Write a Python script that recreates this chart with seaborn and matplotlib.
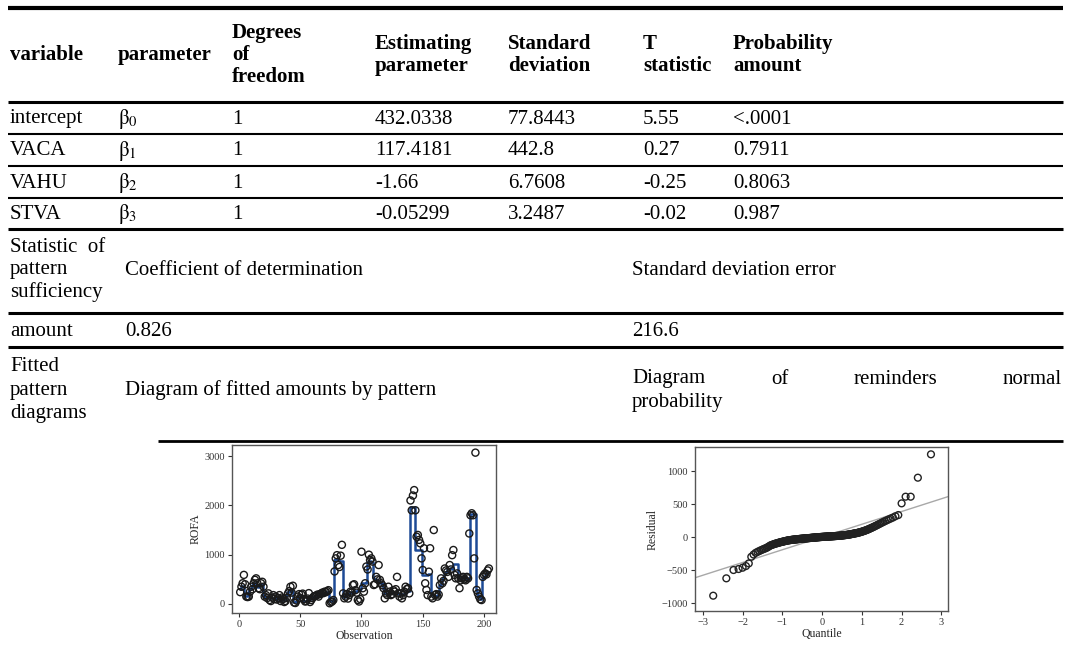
import numpy as np
import pandas as pd
import matplotlib
matplotlib.use("Agg")
import matplotlib.pyplot as plt
import seaborn as sns
from matplotlib.lines import Line2D
from statistics import NormalDist

sns.set_theme(style="white")
plt.rcParams['font.family'] = ['Liberation Serif', 'DejaVu Serif']
plt.rcParams['mathtext.fontset'] = 'stix'

# ---------------- table data ----------------
header = ["variable", "parameter", "Degrees\nof\nfreedom", "Estimating\nparameter",
          "Standard\ndeviation", "T\nstatistic", "Probability\namount"]
variables = ["intercept", "VACA", "VAHU", "STVA"]
params = ["0", "1", "2", "3"]
dof = ["1", "1", "1", "1"]
estimates = ["432.0338", "117.4181", "-1.66", "-0.05299"]
std_devs = ["77.8443", "442.8", "6.7608", "3.2487"]
t_stats = ["5.55", "0.27", "-0.25", "-0.02"]
p_values = ["<.0001", "0.7911", "0.8063", "0.987"]
stat_label = "Statistic  of\npattern\nsufficiency"
stat_cols = ["Coefficient of determination", "Standard deviation error"]
amount_label = "amount"
amount_vals = ["0.826", "216.6"]
diag_label = "Fitted\npattern\ndiagrams"
diag_left = "Diagram of fitted amounts by pattern"
diag_right_words = ["Diagram", "of", "reminders", "normal"]
diag_right_tail = "probability"

# ---------------- chart data ----------------
rofa = [240, 350, 420, 590, 400, 150, 140, 150, 250, 350,
        300, 420, 490, 520, 420, 320, 300, 420, 450, 350,
        150, 180, 120, 215, 80, 60, 130, 180, 100, 150,
        90, 120, 180, 60, 130, 100, 40, 60, 120, 215,
        260, 350, 230, 370, 30, 20, 70, 150, 200, 120,
        190, 210, 100, 50, 60, 110, 220, 40, 80, 120,
        150, 160, 170, 190, 150, 200, 210, 230, 220, 250,
        240, 260, 280, 15, 40, 50, 80, 660, 925, 990,
        790, 750, 980, 1200, 215, 115, 150, 200, 110, 180,
        250, 230, 385, 400, 280, 230, 80, 50, 100, 1060,
        320, 250, 420, 760, 700, 1000, 890, 925, 860, 385,
        400, 550, 500, 790, 490, 420, 380, 320, 115, 215,
        180, 350, 250, 180, 200, 280, 250, 300, 550, 215,
        150, 215, 115, 180, 250, 350, 300, 320, 215, 2100,
        1900, 2200, 2310, 1900, 1365, 1400, 1300, 1230, 925, 690,
        1130, 420, 285, 180, 655, 1130, 150, 115, 1500, 180,
        200, 150, 190, 385, 520, 420, 470, 720, 680, 650,
        550, 790, 700, 990, 1095, 590, 520, 620, 520, 320,
        480, 520, 550, 500, 480, 550, 520, 1430, 1800, 1840,
        1800, 925, 3070, 285, 215, 150, 95, 80, 550, 590,
        620, 600, 680, 720]
fitted = [300, 370, 370, 370, 160, 160, 160, 250, 300, 330,
          390, 420, 420, 380, 350, 350, 380, 400, 400, 160,
          160, 150, 150, 140, 130, 130, 130, 120, 120, 110,
          110, 110, 100, 100, 100, 90, 90, 90, 180, 240,
          260, 270, 280, 280, 50, 50, 60, 150, 160, 160,
          170, 160, 60, 60, 70, 110, 120, 110, 120, 140,
          150, 160, 170, 170, 180, 190, 200, 210, 220, 220,
          230, 240, 240, 60, 60, 60, 70, 900, 920, 920,
          900, 880, 880, 870, 150, 150, 180, 200, 200, 220,
          230, 240, 250, 250, 260, 260, 270, 280, 300, 420,
          420, 430, 430, 450, 850, 860, 870, 860, 850, 520,
          500, 480, 470, 460, 450, 430, 400, 300, 220, 220,
          210, 210, 220, 220, 230, 230, 220, 220, 230, 220,
          210, 200, 200, 200, 210, 230, 250, 260, 270, 1975,
          1975, 1975, 1975, 1095, 1095, 1095, 1095, 1095, 1095, 580,
          580, 580, 580, 590, 600, 600, 180, 180, 180, 170,
          170, 180, 190, 380, 450, 500, 540, 600, 650, 700,
          700, 710, 720, 700, 810, 810, 810, 810, 540, 540,
          530, 520, 520, 520, 510, 510, 510, 520, 1830, 1830,
          1830, 1830, 1830, 280, 200, 150, 110, 110, 500, 550,
          580, 600, 620, 640]
residuals_sorted = [-889, -626, -500, -485, -465, -440, -400, -300, -265, -240,
                    -225, -212, -200, -190, -180, -172, -163, -152, -140, -128,
                    -122, -116, -110, -105, -100, -96, -92, -88, -84, -80,
                    -77, -74, -71, -68, -65, -62, -60, -57, -55, -52,
                    -50, -49, -47, -46, -44, -43, -41, -40, -39, -38,
                    -37, -36, -35, -34, -33, -32, -31, -30, -29, -28,
                    -27, -26, -26, -25, -24, -23, -23, -22, -21, -20,
                    -19, -19, -18, -17, -17, -16, -15, -15, -14, -13,
                    -12, -12, -11, -10, -10, -9, -8, -8, -7, -6,
                    -5, -5, -4, -3, -3, -2, -1, -1, 0, 0,
                    1, 1, 2, 2, 3, 3, 4, 4, 5, 5,
                    6, 6, 7, 7, 8, 8, 9, 9, 10, 10,
                    11, 11, 12, 12, 13, 13, 14, 14, 15, 15,
                    16, 16, 17, 17, 18, 18, 19, 20, 21, 22,
                    23, 24, 25, 26, 27, 28, 29, 30, 31, 32,
                    34, 35, 36, 38, 40, 41, 43, 45, 47, 49,
                    51, 53, 55, 57, 59, 61, 64, 67, 70, 73,
                    76, 80, 84, 88, 92, 97, 102, 107, 113, 119,
                    126, 133, 140, 148, 156, 165, 174, 184, 194, 205,
                    216, 228, 240, 253, 266, 280, 295, 315, 333, 510,
                    611, 611, 899, 1253]
ref_slope = 193.0
ref_intercept = 0.0

W, H = 1071, 653
fig = plt.figure(figsize=(W / 100, H / 100), dpi=100)
fig.patch.set_facecolor("white")


def fx(x):
    return x / W


def fy(y):
    return 1 - y / H


def hline(y, x0, x1, lw=1.5, color="black"):
    fig.add_artist(Line2D([fx(x0), fx(x1)], [fy(y), fy(y)], transform=fig.transFigure,
                          color=color, lw=lw, solid_capstyle="butt"))


def txt(x, y, s, bold=False, size=15, ls=1.05, ha="left"):
    fig.text(fx(x), fy(y), s, fontsize=size, fontweight="bold" if bold else "normal",
             va="center", ha=ha, color="black", linespacing=ls)


col_x = [10, 118, 232, 375, 508, 643, 733]
FS = 15

# rules
hline(8, 8, 1063, lw=3)
hline(102, 8, 1063, lw=2.2)
for yy in [134, 166, 198]:
    hline(yy, 8, 1063, lw=1.5)
hline(229, 8, 1063, lw=2.2)
hline(313, 8, 1063, lw=2.2)
hline(347, 8, 1063, lw=2.2)
hline(441, 158, 1063, lw=2.0)

# header
for cx, h in zip(col_x, header):
    txt(cx, 55, h, bold=True, size=FS, ls=1.12)

# body rows
row_y = [119, 151, 183, 214]
for i, ry in enumerate(row_y):
    txt(col_x[0], ry, variables[i], size=FS)
    txt(col_x[1], ry, r"$\mathrm{\beta}_{" + params[i] + "}$", size=FS)
    txt(col_x[2], ry, dof[i], size=FS)
    txt(col_x[3], ry, estimates[i], size=FS)
    txt(col_x[4], ry, std_devs[i], size=FS)
    txt(col_x[5], ry, t_stats[i], size=FS)
    txt(col_x[6], ry, p_values[i], size=FS)

merge_x = [125, 632]
txt(col_x[0], 270, stat_label, size=FS, ls=1.2)
txt(merge_x[0], 270, stat_cols[0], size=FS)
txt(merge_x[1], 270, stat_cols[1], size=FS)
txt(col_x[0], 331, amount_label, size=FS)
txt(merge_x[0], 331, amount_vals[0], size=FS)
txt(merge_x[1], 331, amount_vals[1], size=FS)
txt(col_x[0], 390, diag_label, size=FS, ls=1.3)
txt(merge_x[0], 390, diag_left, size=FS)
# justified first line of the right merged cell
word_x = [632, 771, 854, 1062]
txt(word_x[0], 379, diag_right_words[0], size=FS)
txt(word_x[1], 379, diag_right_words[1], size=FS)
txt(word_x[2], 379, diag_right_words[2], size=FS)
txt(word_x[3], 379, diag_right_words[3], size=FS, ha="right")
txt(merge_x[1], 403, diag_right_tail, size=FS)

# ---------------- left chart: fitted amounts ----------------
obs = np.arange(1, len(rofa) + 1)
df = pd.DataFrame({"Observation": obs, "ROFA": rofa, "Fitted": fitted})
ax1 = fig.add_axes([fx(232), fy(613), fx(496) - fx(232), fy(445) - fy(613)])
sns.lineplot(data=df, x="Observation", y="Fitted", ax=ax1, color="#1d4a96", lw=1.8,
             drawstyle="steps-mid", zorder=2)
sns.scatterplot(data=df, x="Observation", y="ROFA", ax=ax1, s=26, facecolor="none",
                edgecolor="#1a1a1a", linewidth=1.0, zorder=3)
ax1.set_xlim(-5.7, 209.8)
ax1.set_ylim(-183, 3225)
ax1.set_xticks([0, 50, 100, 150, 200])
ax1.set_yticks([0, 1000, 2000, 3000])
ax1.set_xlabel("Observation", fontsize=8.5, labelpad=1)
ax1.set_ylabel("ROFA", fontsize=8.5, labelpad=2)

# ---------------- right chart: residual QQ ----------------
n = len(residuals_sorted)
quant = [NormalDist().inv_cdf((i + 1 - 0.375) / (n + 0.25)) for i in range(n)]
dq = pd.DataFrame({"Quantile": quant, "Residual": residuals_sorted})
ax2 = fig.add_axes([fx(695), fy(611), fx(948) - fx(695), fy(447) - fy(611)])
ax2.axline((0, ref_intercept), slope=ref_slope, color="#a8a8a8", lw=1.0, zorder=1)
sns.scatterplot(data=dq, x="Quantile", y="Residual", ax=ax2, s=24, facecolor="none",
                edgecolor="#222222", linewidth=1.0, zorder=3)
ax2.set_xlim(-3.2, 3.17)
ax2.set_ylim(-1121, 1364)
ax2.set_xticks([-3, -2, -1, 0, 1, 2, 3])
ax2.set_yticks([-1000, -500, 0, 500, 1000])
ax2.set_xlabel("Quantile", fontsize=8.5, labelpad=1)
ax2.set_ylabel("Residual", fontsize=8.5, labelpad=2)

for ax in (ax1, ax2):
    for sp in ax.spines.values():
        sp.set_color("#555555")
        sp.set_linewidth(1.0)
    ax.tick_params(axis="both", which="both", direction="out", length=3, width=0.8,
                   colors="#333333", labelsize=7.5, pad=2, left=True, bottom=True)
    ax.set_facecolor("white")

fig.savefig("out.png", dpi=100, facecolor="white")
